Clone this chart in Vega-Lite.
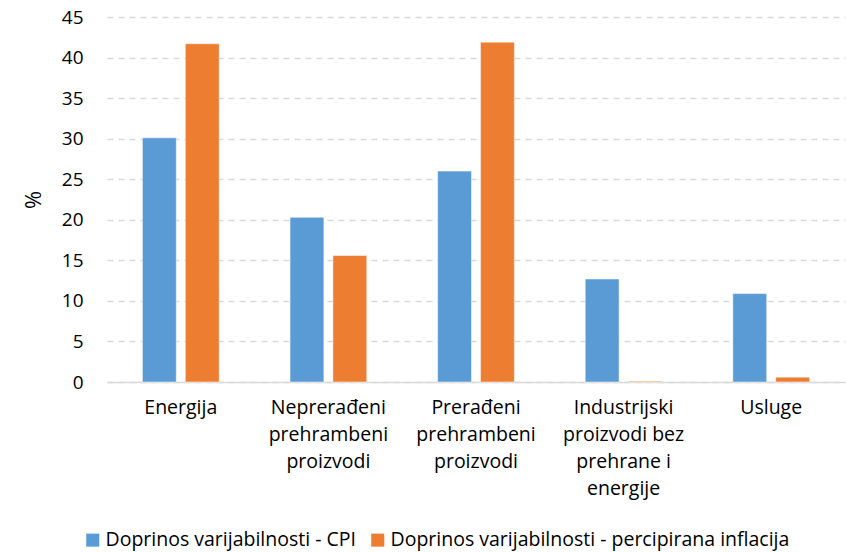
{
  "$schema": "https://vega.github.io/schema/vega-lite/v6.json",
  "width": 738,
  "height": 365,
  "autosize": "none",
  "padding": {"left": 107, "top": 17, "right": 1, "bottom": 170},
  "background": "white",
  "config": {
    "font": "Open Sans",
    "view": {"stroke": null},
    "axis": {"labelFont": "Open Sans", "titleFont": "Open Sans", "labelColor": "#000000", "titleColor": "#000000"},
    "legend": {"labelFont": "Open Sans", "labelColor": "#000000"}
  },
  "data": {
    "values": [
      {"kategorija": "Energija", "serija": "Doprinos varijabilnosti - CPI", "vrijednost": 30.1},
      {"kategorija": "Energija", "serija": "Doprinos varijabilnosti - percipirana inflacija", "vrijednost": 41.7},
      {"kategorija": "Neprerađeni\nprehrambeni\nproizvodi", "serija": "Doprinos varijabilnosti - CPI", "vrijednost": 20.3},
      {"kategorija": "Neprerađeni\nprehrambeni\nproizvodi", "serija": "Doprinos varijabilnosti - percipirana inflacija", "vrijednost": 15.6},
      {"kategorija": "Prerađeni\nprehrambeni\nproizvodi", "serija": "Doprinos varijabilnosti - CPI", "vrijednost": 26.0},
      {"kategorija": "Prerađeni\nprehrambeni\nproizvodi", "serija": "Doprinos varijabilnosti - percipirana inflacija", "vrijednost": 41.9},
      {"kategorija": "Industrijski\nproizvodi bez\nprehrane i\nenergije", "serija": "Doprinos varijabilnosti - CPI", "vrijednost": 12.7},
      {"kategorija": "Industrijski\nproizvodi bez\nprehrane i\nenergije", "serija": "Doprinos varijabilnosti - percipirana inflacija", "vrijednost": 0.1},
      {"kategorija": "Usluge", "serija": "Doprinos varijabilnosti - CPI", "vrijednost": 10.9},
      {"kategorija": "Usluge", "serija": "Doprinos varijabilnosti - percipirana inflacija", "vrijednost": 0.6}
    ]
  },
  "mark": {"type": "bar", "stroke": "white", "strokeWidth": 0.5},
  "encoding": {
    "x": {
      "field": "kategorija", "type": "nominal", "sort": null,
      "scale": {"paddingInner": 0.48, "paddingOuter": 0.24},
      "axis": {
        "title": null, "labelAngle": 0, "ticks": false, "domainColor": "#D9D9D9", "domainWidth": 1.5,
        "labelFontSize": 19.5, "labelPadding": 16, "labelLineHeight": 27, "labelBaseline": "top",
        "labelExpr": "split(datum.label, '\\n')"
      }
    },
    "xOffset": {"field": "serija", "type": "nominal", "scale": {"paddingInner": 0.21, "paddingOuter": 0}},
    "y": {
      "field": "vrijednost", "type": "quantitative",
      "scale": {"domain": [0, 45], "nice": false},
      "axis": {
        "title": "%", "titleFontSize": 22, "titleFontWeight": "normal", "titlePadding": 16,
        "values": [0, 5, 10, 15, 20, 25, 30, 35, 40, 45],
        "domain": false, "ticks": false, "labelFontSize": 19, "labelPadding": 24,
        "gridColor": "#D9D9D9", "gridDash": [6, 5], "gridWidth": 1.5
      }
    },
    "color": {
      "field": "serija", "type": "nominal",
      "scale": {"domain": ["Doprinos varijabilnosti - CPI", "Doprinos varijabilnosti - percipirana inflacija"], "range": ["#5B9BD5", "#ED7D31"]},
      "legend": {
        "title": null, "orient": "none", "direction": "horizontal", "legendX": -24, "legendY": 513,
        "symbolType": "square", "symbolSize": 170, "symbolStrokeWidth": 0, "symbolOffset": 0,
        "labelFontSize": 19.5, "labelOffset": 3, "columnPadding": 12, "labelLimit": 500
      }
    }
  }
}
